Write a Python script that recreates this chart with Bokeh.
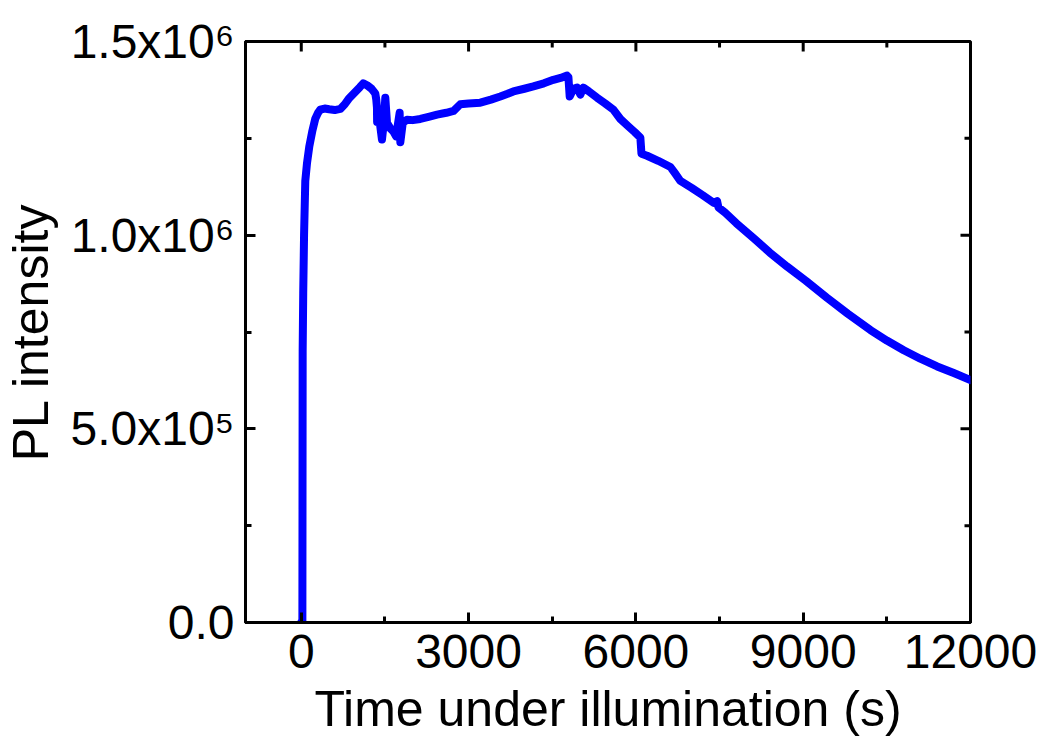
import math
from bokeh.plotting import figure
from bokeh.models import SingleIntervalTicker, Range1d
from bokeh.embed import file_html
from bokeh.resources import INLINE

# ---- data ----
time_s = [0, 20, 25, 35, 50, 72, 102, 143, 200, 250, 300, 341, 420, 500, 600, 700,
          780, 850, 950, 1050, 1112, 1180, 1260, 1327, 1345, 1357,
          1360, 1400, 1447, 1480, 1507, 1537, 1600, 1650, 1700, 1764, 1776, 1820, 1896,
          2000, 2134, 2300, 2434, 2600, 2732, 2852, 3000, 3211, 3400, 3569, 3700, 3803,
          4000, 4161, 4350, 4520, 4650, 4765, 4790, 4813, 4880, 4945, 5004, 5058, 5150,
          5304, 5450, 5596, 5722, 5865, 5980, 6080, 6100, 6200, 6400, 6619, 6700, 6798,
          7000, 7200, 7400, 7456, 7480, 7600, 7800, 8113, 8400, 8711, 9050, 9429, 9800,
          10206, 10500, 10803, 11100, 11402, 11700, 12000]
pl_intensity = [0, 0, 700000, 850000, 1000000, 1140000, 1185000, 1228000, 1270000, 1300000,
                1316000, 1324000, 1327000, 1325000, 1323000, 1326000,
                1338000, 1352000, 1367000, 1382000, 1392000, 1387000, 1378000, 1366000, 1350000, 1330000,
                1292000, 1300000, 1247000, 1290000, 1355000, 1290000, 1275000, 1268000, 1255000, 1316000, 1240000, 1290000, 1298000,
                1297000, 1300000, 1306000, 1311000, 1316000, 1321000, 1338000, 1340000, 1342000, 1350000, 1358000, 1365000, 1371000,
                1378000, 1384000, 1392000, 1401000, 1406000, 1412000, 1408000, 1358000, 1378000, 1381000, 1363000, 1381000, 1372000,
                1355000, 1340000, 1324000, 1300000, 1281000, 1266000, 1252000, 1210000, 1205000, 1192000, 1176000, 1160000, 1140000,
                1122000, 1103000, 1083000, 1088000, 1072000, 1058000, 1031000, 992000, 955000, 919000, 882000, 838000, 797000,
                755000, 728000, 703000, 681000, 661000, 644000, 626000]

x_major_ticks = [0, 3000, 6000, 9000, 12000]
x_minor_ticks = [1500, 4500, 7500, 10500]
y_major_ticks = [0, 500000, 1000000, 1500000]
y_minor_ticks = [250000, 750000, 1250000]
y_tick_labels = ["0.0", "5.0x10\u2075", "1.0x10\u2076", "1.5x10\u2076"]

X_MIN, X_MAX = -1000, 12000
Y_MIN, Y_MAX = 0, 1500000

FONT = "Liberation Sans"

p = figure(width=1043, height=742, output_backend="svg", toolbar_location=None,
           x_range=Range1d(X_MIN, X_MAX), y_range=Range1d(Y_MIN, Y_MAX),
           min_border_left=245, min_border_right=73, min_border_top=41, min_border_bottom=120,
           x_axis_label="Time under illumination (s)", y_axis_label="PL intensity")
p.background_fill_color = "white"
p.border_fill_color = "white"
p.outline_line_color = "black"
p.outline_line_width = 3
p.xgrid.visible = False
p.ygrid.visible = False

p.line(time_s, pl_intensity, line_color="#0000FF", line_width=8, line_join="round", line_cap="round")

def style(ax):
    ax.axis_line_width = 3
    ax.axis_line_color = "black"
    ax.major_tick_line_width = 3
    ax.minor_tick_line_width = 3
    ax.major_tick_in = 10
    ax.major_tick_out = 0
    ax.minor_tick_in = 6
    ax.minor_tick_out = 0
    ax.major_label_text_font = FONT
    ax.major_label_text_font_size = "48px"
    ax.major_label_text_color = "black"
    ax.axis_label_text_font = FONT
    ax.axis_label_text_font_size = "50px"
    ax.axis_label_text_font_style = "normal"
    ax.axis_label_text_color = "black"

xa = p.xaxis[0]
xa.ticker = SingleIntervalTicker(interval=3000, num_minor_ticks=2)
style(xa)
xa.major_label_standoff = 12
xa.axis_label_standoff = 10

ya = p.yaxis[0]
ya.ticker = SingleIntervalTicker(interval=500000, num_minor_ticks=2)
style(ya)
ya.major_label_overrides = {v: s for v, s in zip(y_major_ticks, y_tick_labels)}
ya.major_label_standoff = 11
ya.axis_label_standoff = 8

# inward ticks on the top and right frame edges (half of each dash is clipped by the frame)
p.scatter(x_major_ticks, [Y_MAX] * len(x_major_ticks), marker="dash", size=20, angle=math.pi / 2,
          line_color="black", line_width=3)
p.scatter(x_minor_ticks, [Y_MAX] * len(x_minor_ticks), marker="dash", size=12, angle=math.pi / 2,
          line_color="black", line_width=3)
p.scatter([X_MAX] * len(y_major_ticks), y_major_ticks, marker="dash", size=20,
          line_color="black", line_width=3)
p.scatter([X_MAX] * len(y_minor_ticks), y_minor_ticks, marker="dash", size=12,
          line_color="black", line_width=3)

open("out.html", "w").write(file_html(p, INLINE))
